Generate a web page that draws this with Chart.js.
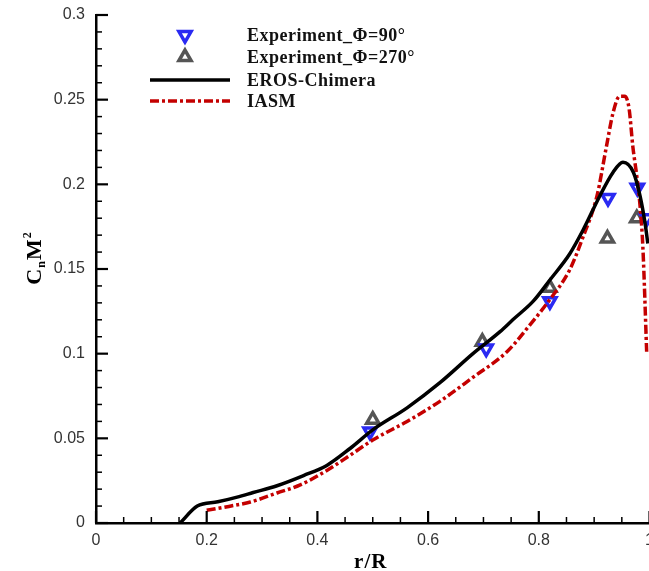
<!DOCTYPE html>
<html lang="en">
<head>
    <meta charset="UTF-8">
    <title>CnM2 vs r/R</title>
    <script src="https://cdn.jsdelivr.net/npm/chart.js"></script>
    <style>
        html, body {
            margin: 0;
            padding: 0;
            background: #fff;
            overflow: hidden;
        }
        #graph {
            position: absolute;
            left: 0;
            top: 0;
        }
    </style>
</head>
<body>
    <canvas id="graph" width="660" height="571"></canvas>

    <script>
        // experiment, phi = 90 deg (blue, down triangles)
        const phi90X = [0.495, 0.705, 0.82, 0.925, 0.978, 0.995];
        const phi90Y = [0.054, 0.103, 0.131, 0.192, 0.198, 0.180];

        // experiment, phi = 270 deg (grey, up triangles)
        const phi270X = [0.5, 0.698, 0.82, 0.924, 0.977];
        const phi270Y = [0.061, 0.107, 0.139, 0.168, 0.180];

        // EROS-Chimera (black)
        const erosX = [0.152, 0.183, 0.22, 0.255, 0.284, 0.327, 0.375, 0.417, 0.459, 0.5, 0.562, 0.622,
                       0.681, 0.73, 0.753, 0.79, 0.82, 0.856, 0.88, 0.91, 0.934, 0.952, 0.971, 0.983, 0.992, 0.997];
        const erosY = [0, 0.010, 0.0125, 0.0153, 0.018, 0.022, 0.028, 0.034, 0.044, 0.055, 0.068, 0.083,
                       0.100, 0.113, 0.120, 0.131, 0.1435, 0.159, 0.173, 0.193, 0.207, 0.213, 0.207, 0.193, 0.177, 0.165];

        // IASM (red dash-dot)
        const iasmX = [0.2, 0.24, 0.279, 0.327, 0.369, 0.417, 0.459, 0.5, 0.562, 0.622, 0.681, 0.742, 0.784,
                       0.82, 0.855, 0.88, 0.905, 0.922, 0.934, 0.946, 0.955, 0.963, 0.970, 0.977, 0.983, 0.988, 0.995];
        const iasmY = [0.0075, 0.0098, 0.0124, 0.0177, 0.0225, 0.031, 0.040, 0.049, 0.060, 0.072, 0.086, 0.101, 0.117,
                       0.132, 0.149, 0.169, 0.193, 0.222, 0.242, 0.252, 0.252, 0.245, 0.222, 0.205, 0.187, 0.163, 0.100];

        const legendLabels = ['Experiment_\u03A6=90\u00B0', 'Experiment_\u03A6=270\u00B0', 'EROS-Chimera', 'IASM'];
        const xTitle = 'r/R';

        function toPoints(xs, ys) {
            return xs.map((x, i) => ({ x: x, y: ys[i] }));
        }

        const tickFont = { family: 'Arial, "Liberation Sans", sans-serif', size: 16 };

        // inward ticks, axis titles and the legend inside the plot
        const decorations = {
            id: 'decorations',
            afterDraw(chart) {
                const ctx = chart.ctx;
                const xs = chart.scales.x;
                const ys = chart.scales.y;
                const area = chart.chartArea;
                ctx.save();
                ctx.strokeStyle = '#000';

                for (let k = 0; k <= 20; k++) {
                    const px = xs.getPixelForValue(k * 0.05);
                    const major = k % 4 === 0;
                    ctx.lineWidth = major ? 2.2 : 1.5;
                    ctx.beginPath();
                    ctx.moveTo(px, area.bottom);
                    ctx.lineTo(px, area.bottom - (major ? 12 : 6));
                    ctx.stroke();
                }
                for (let k = 0; k <= 30; k++) {
                    const py = ys.getPixelForValue(k * 0.01);
                    const major = k % 5 === 0;
                    ctx.lineWidth = major ? 2.2 : 1.5;
                    ctx.beginPath();
                    ctx.moveTo(area.left, py);
                    ctx.lineTo(area.left + (major ? 12 : 6), py);
                    ctx.stroke();
                }

                // x title
                ctx.fillStyle = '#000';
                ctx.font = 'bold 21px "Liberation Serif", serif';
                ctx.letterSpacing = '1px';
                ctx.textAlign = 'center';
                ctx.textBaseline = 'alphabetic';
                ctx.fillText(xTitle, (area.left + area.right) / 2 - 2, 568);

                // y title: C_n M^2, rotated
                ctx.translate(41, 258);
                ctx.rotate(-Math.PI / 2);
                const big = 'bold 22px "Liberation Serif", serif';
                const small = 'bold 12px "Liberation Serif", serif';
                ctx.font = big; const wC = ctx.measureText('C').width; const wM = ctx.measureText('M').width;
                ctx.font = small; const wn = ctx.measureText('n').width; const w2 = ctx.measureText('2').width;
                let x0 = -(wC + wn + wM + w2) / 2;
                ctx.textAlign = 'left';
                ctx.font = big; ctx.fillText('C', x0, 0); x0 += wC;
                ctx.font = small; ctx.fillText('n', x0, 4); x0 += wn;
                ctx.font = big; ctx.fillText('M', x0, 0); x0 += wM;
                ctx.font = small; ctx.fillText('2', x0, -10);
                ctx.setTransform(1, 0, 0, 1, 0, 0);
                ctx.letterSpacing = '0px';

                // legend
                const rows = [35, 57, 80, 101];
                const ds = chart.data.datasets;
                const legendOrder = [2, 3, 0, 1];
                legendOrder.forEach((di, r) => {
                    const d = ds[di];
                    const y = rows[r];
                    if (d.showLine) {
                        ctx.strokeStyle = d.borderColor;
                        ctx.lineWidth = d.borderWidth;
                        ctx.setLineDash(d.borderDash || []);
                        ctx.beginPath();
                        ctx.moveTo(150, y);
                        ctx.lineTo(230, y);
                        ctx.stroke();
                        ctx.setLineDash([]);
                    } else {
                        ctx.strokeStyle = d.borderColor;
                        ctx.fillStyle = '#fff';
                        ctx.lineWidth = d.borderWidth;
                        Chart.helpers.drawPoint(ctx, {
                            pointStyle: d.pointStyle,
                            rotation: d.rotation || 0,
                            radius: d.pointRadius,
                            borderWidth: d.borderWidth
                        }, 185, y);
                    }
                    ctx.fillStyle = '#111';
                    ctx.font = 'bold 18px "Liberation Serif", serif';
                    ctx.letterSpacing = '0.5px';
                    ctx.textAlign = 'left';
                    ctx.textBaseline = 'middle';
                    ctx.fillText(legendLabels[r], 247, y + 1);
                    ctx.letterSpacing = '0px';
                });
                ctx.restore();
            }
        };

        window.onload = function() {
            const ctx = document.getElementById('graph').getContext('2d');
            new Chart(ctx, {
                type: 'scatter',
                data: {
                    datasets: [
                        {
                            label: legendLabels[2],
                            data: toPoints(erosX, erosY),
                            showLine: true,
                            borderColor: '#000',
                            borderWidth: 3.5,
                            pointRadius: 0,
                            cubicInterpolationMode: 'monotone',
                            order: 0
                        },
                        {
                            label: legendLabels[3],
                            data: toPoints(iasmX, iasmY),
                            showLine: true,
                            borderColor: '#c40000',
                            borderWidth: 3.5,
                            borderDash: [9, 3, 3, 3],
                            pointRadius: 0,
                            cubicInterpolationMode: 'monotone',
                            order: 0
                        },
                        {
                            label: legendLabels[0],
                            data: toPoints(phi90X, phi90Y),
                            showLine: false,
                            pointStyle: 'triangle',
                            rotation: 180,
                            pointRadius: 7,
                            borderWidth: 3.5,
                            borderColor: '#2a2af2',
                            backgroundColor: '#fff',
                            order: 1
                        },
                        {
                            label: legendLabels[1],
                            data: toPoints(phi270X, phi270Y),
                            showLine: false,
                            pointStyle: 'triangle',
                            pointRadius: 7,
                            borderWidth: 3.5,
                            borderColor: '#555',
                            backgroundColor: '#fff',
                            order: 1
                        }
                    ]
                },
                options: {
                    responsive: false,
                    animation: false,
                    events: [],
                    layout: { padding: { top: 15, right: 10, left: 0, bottom: 0 } },
                    plugins: {
                        legend: { display: false },
                        tooltip: { enabled: false }
                    },
                    scales: {
                        x: {
                            type: 'linear',
                            min: 0,
                            max: 1,
                            grid: { display: false },
                            border: { display: true, color: '#000', width: 2.5 },
                            ticks: {
                                stepSize: 0.05,
                                autoSkip: false,
                                maxRotation: 0,
                                padding: 0,
                                color: '#333',
                                font: tickFont,
                                callback: v => (Math.round(v * 100) % 20 === 0 ? String(Math.round(v * 10) / 10) : '')
                            },
                            afterFit: s => { s.height = 48; }
                        },
                        y: {
                            type: 'linear',
                            min: 0,
                            max: 0.3,
                            grid: { display: false },
                            border: { display: true, color: '#000', width: 2.5 },
                            ticks: {
                                stepSize: 0.01,
                                autoSkip: false,
                                padding: 3,
                                color: '#333',
                                font: tickFont,
                                callback: v => (Math.round(v * 100) % 5 === 0 ? String(Math.round(v * 100) / 100) : '')
                            },
                            afterFit: s => { s.width = 96; }
                        }
                    }
                },
                plugins: [decorations]
            });
        };
    </script>
</body>
</html>
